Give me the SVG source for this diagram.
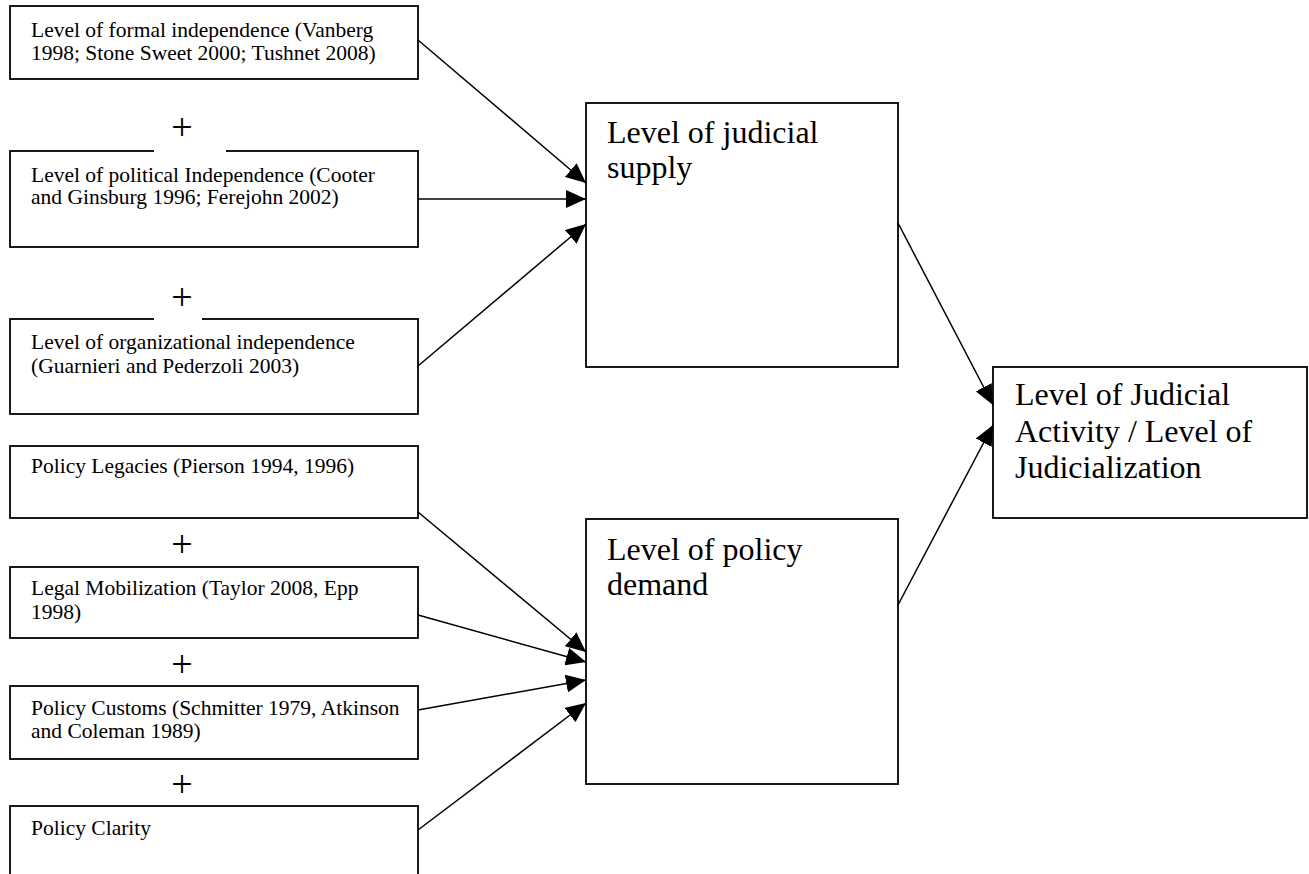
<svg xmlns="http://www.w3.org/2000/svg" width="1309" height="874" viewBox="0 0 1309 874">
<style>
.box{fill:#fff;stroke:#000;stroke-width:1.8}
.sm{font-family:"Liberation Serif","Times New Roman",serif;font-size:21.5px;fill:#000}
.lg{font-family:"Liberation Serif","Times New Roman",serif;font-size:32px;fill:#000}
.plus{font-family:"Liberation Serif","Times New Roman",serif;font-size:38px;fill:#000;text-anchor:middle}
.edge{stroke:#000;stroke-width:1.5;fill:none;marker-end:url(#ah)}
</style>
<defs>
<marker id="ah" viewBox="0 0 20 18" refX="20" refY="9" markerWidth="20" markerHeight="18" markerUnits="userSpaceOnUse" orient="auto">
<path d="M0,0 L20,9 L0,18 z" fill="#000"/>
</marker>
</defs>
<rect width="1309" height="874" fill="#fff"/>
<g id="formal">
<rect class="box" x="10" y="6" width="408" height="73"/>
<text class="sm" x="31" y="37">Level of formal independence (Vanberg</text>
<text class="sm" x="31" y="60">1998; Stone Sweet 2000; Tushnet 2008)</text>
</g>
<g id="political">
<rect class="box" x="10" y="151" width="408" height="96"/>
<text class="sm" x="31" y="182">Level of political Independence (Cooter</text>
<text class="sm" x="31" y="204">and Ginsburg 1996; Ferejohn 2002)</text>
</g>
<g id="organizational">
<rect class="box" x="10" y="319" width="408" height="95"/>
<text class="sm" x="31" y="349">Level of organizational independence</text>
<text class="sm" x="31" y="373">(Guarnieri and Pederzoli 2003)</text>
</g>
<g id="legacies">
<rect class="box" x="10" y="446" width="408" height="72"/>
<text class="sm" x="31" y="473">Policy Legacies (Pierson 1994, 1996)</text>
</g>
<g id="mobilization">
<rect class="box" x="10" y="567" width="408" height="71"/>
<text class="sm" x="31" y="595">Legal Mobilization (Taylor 2008, Epp</text>
<text class="sm" x="31" y="619">1998)</text>
</g>
<g id="customs">
<rect class="box" x="10" y="686" width="408" height="73"/>
<text class="sm" x="31" y="715">Policy Customs (Schmitter 1979, Atkinson</text>
<text class="sm" x="31" y="738">and Coleman 1989)</text>
</g>
<g id="clarity">
<rect class="box" x="10" y="806" width="408" height="90"/>
<text class="sm" x="31" y="835">Policy Clarity</text>
</g>
<g id="plus-signs">
<rect x="154" y="149" width="72" height="4" fill="#fff"/>
<rect x="154" y="317" width="48" height="4" fill="#fff"/>
<text class="plus" x="182" y="140">+</text>
<text class="plus" x="182" y="310">+</text>
<text class="plus" x="182" y="557">+</text>
<text class="plus" x="182" y="677">+</text>
<text class="plus" x="182" y="797">+</text>
</g>
<g id="supply">
<rect class="box" x="586" y="103" width="312" height="264"/>
<text class="lg" x="607" y="143">Level of judicial</text>
<text class="lg" x="607" y="178">supply</text>
</g>
<g id="demand">
<rect class="box" x="586" y="519" width="312" height="265"/>
<text class="lg" x="607" y="560">Level of policy</text>
<text class="lg" x="607" y="595">demand</text>
</g>
<g id="activity">
<rect class="box" x="993" y="367" width="314" height="151"/>
<text class="lg" x="1015" y="405">Level of Judicial</text>
<text class="lg" x="1015" y="442">Activity / Level of</text>
<text class="lg" x="1015" y="478">Judicialization</text>
</g>
<g id="connectors">
<line class="edge" x1="418" y1="40" x2="586" y2="183"/>
<line class="edge" x1="418" y1="199" x2="586" y2="199"/>
<line class="edge" x1="418" y1="366" x2="586" y2="224"/>
<line class="edge" x1="418" y1="512" x2="586" y2="652"/>
<line class="edge" x1="418" y1="615" x2="586" y2="662"/>
<line class="edge" x1="418" y1="710" x2="586" y2="680"/>
<line class="edge" x1="418" y1="830" x2="586" y2="703"/>
<line class="edge" x1="898" y1="223" x2="993" y2="405"/>
<line class="edge" x1="898" y1="605" x2="993" y2="425"/>
</g>
</svg>
